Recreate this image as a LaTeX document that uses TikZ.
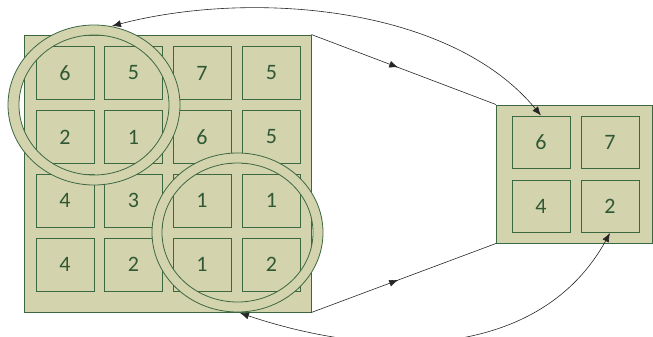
\documentclass[tikz,border=0pt]{standalone}
\usepackage{fontspec}
\setmainfont{Carlito}
\usetikzlibrary{arrows.meta,decorations.markings}
\definecolor{olivefill}{HTML}{D3D3AE}
\definecolor{darkline}{HTML}{3B6841}
\definecolor{darktext}{HTML}{2E5934}
\tikzset{
  panel/.style={draw=darkline, fill=olivefill, line width=0.9pt, inner sep=0pt},
  cell/.style={draw=darkline, fill=olivefill, line width=0.9pt, inner sep=0pt,
    minimum width=58pt, minimum height=53pt, text=darktext, font=\fontsize{22}{22}\selectfont},
  ring/.style={draw=darkline, fill=olivefill, line width=0.8pt, even odd rule},
  conn/.style={draw=black!85, line width=0.6pt},
  bothtips/.style={{Latex[length=9pt,width=7pt]}-{Latex[length=9pt,width=7pt]}},
  midarrow/.style={postaction={decorate}, decoration={markings,
    mark=at position 0.47 with {\arrow{Latex[length=9pt,width=7pt]}}}}
}
\begin{document}
\begin{tikzpicture}[x=1pt,y=-1pt]
\useasboundingbox (0,0) rectangle (653,337);
% big panel
\node[panel, minimum width=287pt, minimum height=277pt] (big) at (167.5,173.5) {};
\node[cell] (a11) at (65,73) {6};
\node[cell] (a12) at (133.5,73) {5};
\node[cell] (a13) at (202,73) {7};
\node[cell] (a14) at (271.5,73) {5};
\node[cell] (a21) at (65,137) {2};
\node[cell] (a22) at (133.5,137) {1};
\node[cell] (a23) at (202,137) {6};
\node[cell] (a24) at (271.5,137) {5};
\node[cell] (a31) at (65,200.5) {4};
\node[cell] (a32) at (133.5,200.5) {3};
\node[cell] (a33) at (202,200.5) {1};
\node[cell] (a34) at (271.5,200.5) {1};
\node[cell] (a41) at (65,264.5) {4};
\node[cell] (a42) at (133.5,264.5) {2};
\node[cell] (a43) at (202,264.5) {1};
\node[cell] (a44) at (271.5,264.5) {2};
% rings
\path[ring] (94,105) ellipse [x radius=86, y radius=80] (94,105) ellipse [x radius=75, y radius=70];
\path[ring] (237.5,232.5) ellipse [x radius=85.5, y radius=79.5] (237.5,232.5) ellipse [x radius=75.5, y radius=69.5];
\coordinate (ringtop) at (112,26);
\coordinate (ringbot) at (240,313);
% small panel
\node[panel, minimum width=156pt, minimum height=138pt] (small) at (574.5,174) {};
\node[cell, minimum height=52pt] (s11) at (541,142) {6};
\node[cell, minimum height=52pt] (s12) at (610,142) {7};
\node[cell, minimum height=52pt] (s21) at (541,206.5) {4};
\node[cell, minimum height=52pt] (s22) at (610,206.5) {2};
% connectors
\draw[conn, midarrow] (big.north east) -- (small.north west);
\draw[conn, midarrow] (big.south east) -- (small.south west);
\draw[conn, bothtips] (s11.north) .. controls (450,5) and (250,-10) .. (ringtop);
\draw[conn, bothtips] (ringbot) .. controls (380,360) and (540,360) .. (s22.south);
\end{tikzpicture}
\end{document}
